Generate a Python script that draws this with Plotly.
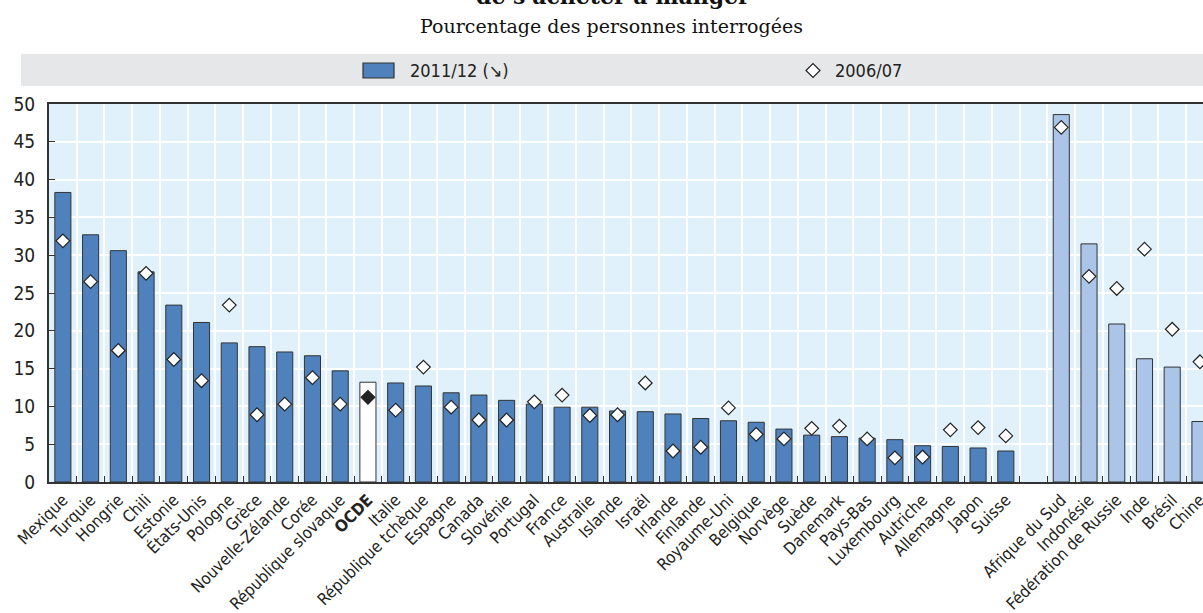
import plotly.graph_objects as go

# ---------------- data ----------------
oecd_countries = ["Mexique", "Turquie", "Hongrie", "Chili", "Estonie", "États-Unis", "Pologne", "Grèce",
                  "Nouvelle-Zélande", "Corée", "République slovaque", "OCDE", "Italie", "République tchèque",
                  "Espagne", "Canada", "Slovénie", "Portugal", "France", "Australie", "Islande", "Israël",
                  "Irlande", "Finlande", "Royaume-Uni", "Belgique", "Norvège", "Suède", "Danemark", "Pays-Bas",
                  "Luxembourg", "Autriche", "Allemagne", "Japon", "Suisse"]
oecd_2011 = [38.3, 32.7, 30.6, 27.8, 23.4, 21.1, 18.4, 17.9, 17.2, 16.7, 14.7, 13.2, 13.1, 12.7,
             11.8, 11.5, 10.8, 10.3, 9.9, 9.9, 9.4, 9.3, 9.0, 8.4, 8.1, 7.9, 7.0, 6.2, 6.0, 5.8,
             5.6, 4.8, 4.7, 4.5, 4.1]
oecd_2006 = [31.9, 26.5, 17.4, 27.6, 16.2, 13.4, 23.4, 8.9, 10.3, 13.8, 10.3, 11.2, 9.5, 15.2,
             9.9, 8.2, 8.2, 10.6, 11.5, 8.8, 8.9, 13.1, 4.1, 4.6, 9.8, 6.3, 5.7, 7.1, 7.4, 5.7,
             3.2, 3.3, 6.9, 7.2, 6.1]

partner_countries = ["Afrique du Sud", "Indonésie", "Fédération de Russie", "Inde", "Brésil", "Chine"]
partner_2011 = [48.6, 31.5, 20.9, 16.3, 15.2, 8.0]
partner_2006 = [46.9, 27.2, 25.6, 30.8, 20.2, 15.9]

aggregate = "OCDE"
gap_label = " "

series_labels = ["2011/12 (↘)", "2006/07"]
y_ticks = [0, 5, 10, 15, 20, 25, 30, 35, 40, 45, 50]

title_text = "de s'acheter à manger"
subtitle_text = "Pourcentage des personnes interrogées"

# ---------------- build ----------------
categories = oecd_countries + [gap_label] + partner_countries
vals_2011 = oecd_2011 + [None] + partner_2011
vals_2006 = oecd_2006 + [None] + partner_2006

C_OECD = "#4F81BD"
C_PART = "#ABC5E8"
C_AGG = "#FFFFFF"
C_EDGE = "#333333"

bar_colors = []
for c in categories:
    if c == aggregate:
        bar_colors.append(C_AGG)
    elif c in partner_countries:
        bar_colors.append(C_PART)
    else:
        bar_colors.append(C_OECD)
dia_colors = ["#222222" if c == aggregate else "#FFFFFF" for c in categories]

ticktext = ["<b>%s</b>" % c if c == aggregate else c for c in categories]

LABEL_FONT = "'Liberation Sans Narrow', 'Arial Narrow', 'DejaVu Sans Condensed', sans-serif"

fig = go.Figure()
fig.add_trace(go.Bar(
    x=categories, y=vals_2011, name=series_labels[0],
    marker=dict(color=bar_colors, line=dict(color=C_EDGE, width=1)),
    width=0.58, showlegend=False,
))
fig.add_trace(go.Scatter(
    x=categories, y=vals_2006, name=series_labels[1], mode="markers",
    marker=dict(symbol="diamond", size=10.5, color=dia_colors,
                line=dict(color="#222222", width=1.2)),
    showlegend=False,
))

# pixel geometry helpers (figure 1203x613, plot area x 49..1203, y 104..482)
L, R, T, B = 49, 1203, 104, 482
def px(x):
    return (x - L) / (R - L)
def py(y):
    return (B - y) / (B - T)

shapes = []
annotations = []
# legend band
shapes.append(dict(type="rect", xref="paper", yref="paper",
                   x0=px(21), x1=px(1210), y0=py(86), y1=py(54),
                   fillcolor="#E6E7E8", line=dict(width=0), layer="above"))
# legend rectangle symbol
shapes.append(dict(type="rect", xref="paper", yref="paper",
                   x0=px(363), x1=px(394), y0=py(78), y1=py(63),
                   fillcolor=C_OECD, line=dict(color=C_EDGE, width=1.2), layer="above"))
annotations.append(dict(xref="paper", yref="paper", x=px(408), y=py(70.5),
                        xanchor="left", yanchor="middle", showarrow=False,
                        text=series_labels[0], font=dict(family=LABEL_FONT, size=18, color="#222222")))
# legend diamond symbol
cx, cy, r = 813, 70.5, 7
shapes.append(dict(type="path", xref="paper", yref="paper",
                   path="M %f %f L %f %f L %f %f L %f %f Z" % (
                       px(cx - r), py(cy), px(cx), py(cy - r), px(cx + r), py(cy), px(cx), py(cy + r)),
                   fillcolor="#FFFFFF", line=dict(color="#222222", width=1.2), layer="above"))
annotations.append(dict(xref="paper", yref="paper", x=px(833), y=py(70.5),
                        xanchor="left", yanchor="middle", showarrow=False,
                        text=series_labels[1], font=dict(family=LABEL_FONT, size=18, color="#222222")))
# titles
annotations.append(dict(xref="paper", yref="paper", x=px(613), y=py(-4),
                        xanchor="center", yanchor="middle", showarrow=False,
                        text="<b>%s</b>" % title_text,
                        font=dict(family="'DejaVu Serif', serif", size=22, color="#111111")))
annotations.append(dict(xref="paper", yref="paper", x=px(611), y=py(26),
                        xanchor="center", yanchor="middle", showarrow=False,
                        text=subtitle_text,
                        font=dict(family="'DejaVu Serif', serif", size=19, color="#111111")))

fig.update_layout(
    width=1203, height=613, autosize=False,
    margin=dict(l=L, r=0, t=T, b=613 - B, pad=0, autoexpand=False),
    paper_bgcolor="#FFFFFF", plot_bgcolor="#E0F1FB",
    bargap=0.42,
    shapes=shapes, annotations=annotations,
    font=dict(family=LABEL_FONT, color="#222222"),
)
fig.update_xaxes(
    type="category", categoryorder="array", categoryarray=categories,
    range=[-0.5, 41.11], automargin=False,
    tickmode="array", tickvals=categories, ticktext=ticktext,
    tickangle=-45, tickfont=dict(family=LABEL_FONT, size=16.5, color="#222222"),
    tickson="boundaries", ticks="inside", ticklen=6, tickwidth=1.2, tickcolor="#333333",
    showgrid=True, gridcolor="#FFFFFF", gridwidth=1.5,
    showline=True, linecolor="#333333", linewidth=2, mirror=True,
    zeroline=False,
)
fig.update_yaxes(
    range=[0, 50], tickmode="array", tickvals=y_ticks, automargin=False,
    tickfont=dict(family=LABEL_FONT, size=19, color="#222222"),
    ticks="inside", ticklen=6, tickwidth=1.2, tickcolor="#333333",
    showgrid=True, gridcolor="#FFFFFF", gridwidth=1.5,
    showline=True, linecolor="#333333", linewidth=2, mirror=False,
    zeroline=False, ticklabelstandoff=8,
)

fig.write_html("out.html", config={"displayModeBar": False},
               post_script="document.body.style.margin='0';")
